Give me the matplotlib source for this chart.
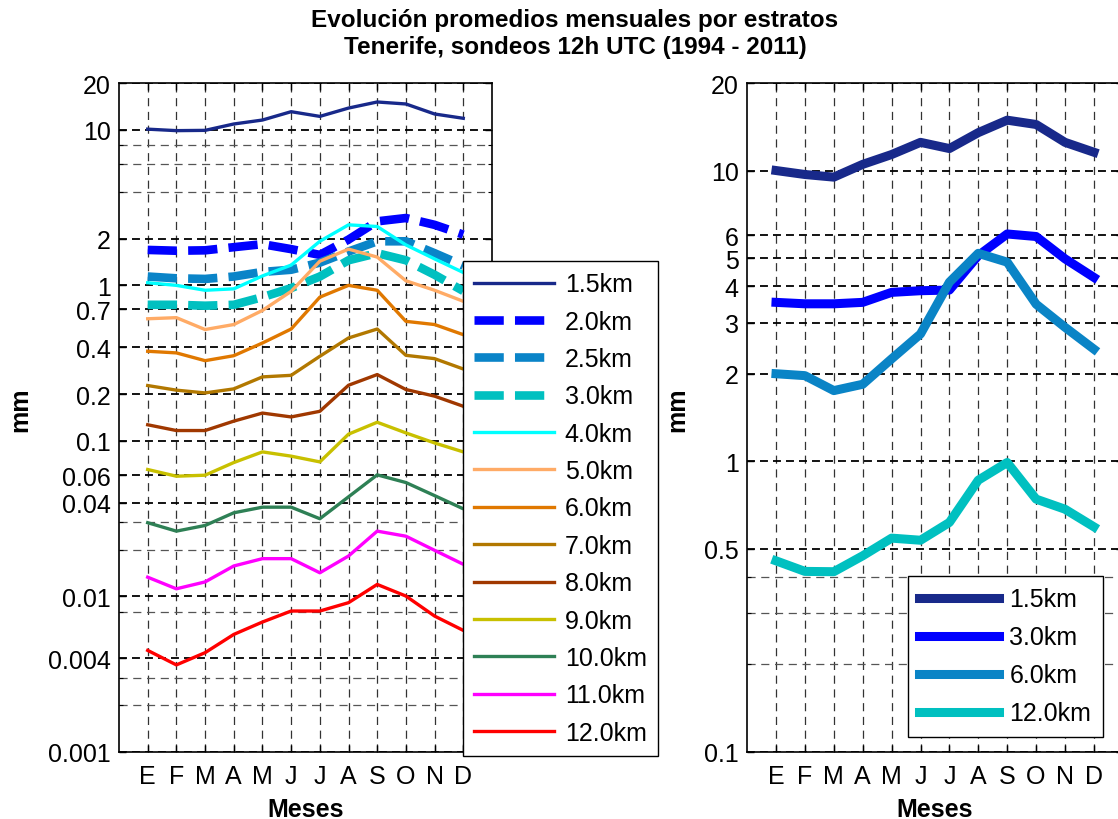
import matplotlib
matplotlib.use("Agg")
import matplotlib.pyplot as plt
from matplotlib.ticker import NullFormatter, FixedLocator, FixedFormatter, NullLocator

plt.rcParams['font.family'] = ['Liberation Sans', 'DejaVu Sans']

months = ['E', 'F', 'M', 'A', 'M', 'J', 'J', 'A', 'S', 'O', 'N', 'D']

# Left panel series (mm)
left_labels = ['1.5km', '2.0km', '2.5km', '3.0km', '4.0km', '5.0km', '6.0km',
               '7.0km', '8.0km', '9.0km', '10.0km', '11.0km', '12.0km']
l_1_5 = [10.1, 9.88, 9.92, 10.9, 11.56, 13.08, 12.2, 13.8, 15.1, 14.66, 12.64, 11.86]
l_2_0 = [1.69, 1.67, 1.68, 1.76, 1.84, 1.71, 1.57, 1.97, 2.58, 2.71, 2.45, 2.12]
l_2_5 = [1.14, 1.11, 1.10, 1.14, 1.22, 1.26, 1.40, 1.65, 1.92, 1.92, 1.61, 1.34]
l_3_0 = [0.75, 0.75, 0.74, 0.75, 0.84, 0.96, 1.14, 1.45, 1.61, 1.45, 1.17, 0.92]
l_4_0 = [1.04, 1.00, 0.93, 0.95, 1.15, 1.35, 1.92, 2.45, 2.39, 1.82, 1.48, 1.21]
l_5_0 = [0.61, 0.62, 0.52, 0.56, 0.69, 0.915, 1.43, 1.71, 1.52, 1.07, 0.93, 0.79]
l_6_0 = [0.377, 0.368, 0.328, 0.353, 0.426, 0.524, 0.84, 1.0, 0.93, 0.587, 0.56, 0.482]
l_7_0 = [0.227, 0.212, 0.2035, 0.216, 0.258, 0.264, 0.35, 0.459, 0.524, 0.355, 0.338, 0.29]
l_8_0 = [0.127, 0.1166, 0.1166, 0.134, 0.151, 0.1426, 0.155, 0.228, 0.267, 0.214, 0.194, 0.167]
l_9_0 = [0.0655, 0.0593, 0.0602, 0.0726, 0.085, 0.0798, 0.0733, 0.1105, 0.1318, 0.1126, 0.097, 0.085]
l_10_0 = [0.0298, 0.0263, 0.0286, 0.0345, 0.0375, 0.0375, 0.0316, 0.0437, 0.0605, 0.054, 0.0445, 0.0366]
l_11_0 = [0.0133, 0.0112, 0.0124, 0.0157, 0.0175, 0.0175, 0.0142, 0.0182, 0.0263, 0.0244, 0.0198, 0.0161]
l_12_0 = [0.0045, 0.00363, 0.00435, 0.0057, 0.00685, 0.00806, 0.00806, 0.00912, 0.01195, 0.01006, 0.00748, 0.00605]

left_colors = ['#18298a', '#0000ff', '#0a84c8', '#00c0c0', '#00ffff', '#ffab66', '#e07800',
               '#b27800', '#a03800', '#c8c000', '#2e8055', '#ff00ff', '#ff0000']

# Right panel series (mm)
right_labels = ['1.5km', '3.0km', '6.0km', '12.0km']
r_1_5 = [10.0, 9.69, 9.49, 10.5, 11.35, 12.5, 11.9, 13.5, 14.9, 14.4, 12.5, 11.56]
r_3_0 = [3.52, 3.48, 3.48, 3.52, 3.81, 3.86, 3.88, 5.1, 6.05, 5.93, 4.97, 4.29]
r_6_0 = [2.0, 1.97, 1.75, 1.84, 2.25, 2.74, 4.13, 5.19, 4.84, 3.47, 2.89, 2.43]
r_12_0 = [0.4545, 0.418, 0.417, 0.473, 0.544, 0.535, 0.616, 0.861, 0.99, 0.741, 0.684, 0.595]
right_colors = ['#18298a', '#0000ff', '#0a84c6', '#00c0c0']

left_yticks = [0.001, 0.004, 0.01, 0.04, 0.06, 0.1, 0.2, 0.4, 0.7, 1, 2, 10, 20]
left_yticklabels = ['0.001', '0.004', '0.01', '0.04', '0.06', '0.1', '0.2', '0.4', '0.7', '1', '2', '10', '20']
left_yminor = [0.002, 0.003, 0.008, 0.02, 0.03, 4, 6, 8]
right_yticks = [0.1, 0.5, 1, 2, 3, 4, 5, 6, 10, 20]
right_yticklabels = ['0.1', '0.5', '1', '2', '3', '4', '5', '6', '10', '20']
right_yminor = [0.2, 0.3, 0.4]

FS = 18
W, H = 1118, 820
fig = plt.figure(figsize=(W / 100, H / 100), dpi=100)

def px(x0, y0, x1, y1):
    return [x0 / W, 1 - y1 / H, (x1 - x0) / W, (y1 - y0) / H]

axL = fig.add_axes(px(119, 84, 119 + 13 * 28.69, 753))
axR = fig.add_axes(px(747.1, 84, 747.1 + 13 * 28.9, 753))

x = list(range(1, 13))

def style_axis(ax, ylim, yt, ytl, yminor):
    ax.set_yscale('log')
    ax.set_xlim(0, 13)
    ax.set_ylim(*ylim)
    ax.yaxis.set_major_locator(FixedLocator(yt))
    ax.yaxis.set_major_formatter(FixedFormatter(ytl))
    ax.yaxis.set_minor_locator(FixedLocator(yminor))
    ax.yaxis.set_minor_formatter(NullFormatter())
    ax.set_xticks(x)
    ax.set_xticklabels(months)
    ax.xaxis.set_minor_locator(NullLocator())
    ax.tick_params(axis='both', which='both', direction='in', top=True, right=True,
                   labelsize=FS, colors='black')
    ax.tick_params(axis='y', which='major', length=5, width=1, pad=6)
    ax.tick_params(axis='y', which='minor', length=3, width=0.8)
    ax.tick_params(axis='x', which='major', length=5, width=1, pad=9)
    ax.grid(True, axis='y', which='major', color='black', linewidth=1.3,
            linestyle=(0, (4.4, 2.8)))
    ax.grid(True, axis='y', which='minor', color='#555555', linewidth=0.9,
            linestyle=(0, (6.5, 4.5)))
    ax.grid(True, axis='x', which='major', color='#333333', linewidth=0.9,
            linestyle=(0, (6.5, 4.5)))
    ax.set_axisbelow(True)
    for s in ax.spines.values():
        s.set_linewidth(1.2)
        s.set_color('black')
    ax.set_xlabel('Meses', fontsize=FS, fontweight='bold', labelpad=6)

style_axis(axL, (0.001, 20), left_yticks, left_yticklabels, left_yminor)
style_axis(axR, (0.1, 20), right_yticks, right_yticklabels, right_yminor)

fig.text(20 / W, 1 - 410 / H, 'mm', rotation=90, ha='center', va='center',
         fontsize=FS, fontweight='bold')
fig.text(677 / W, 1 - 410 / H, 'mm', rotation=90, ha='center', va='center',
         fontsize=FS, fontweight='bold')

left_series = [l_1_5, l_2_0, l_2_5, l_3_0, l_4_0, l_5_0, l_6_0, l_7_0, l_8_0,
               l_9_0, l_10_0, l_11_0, l_12_0]
handles = []
for i, (vals, lab, col) in enumerate(zip(left_series, left_labels, left_colors)):
    if lab in ('2.0km', '2.5km', '3.0km'):
        h, = axL.plot(x, vals, color=col, linewidth=6.2, linestyle=(0, (3.4, 1.3)),
                      label=lab, solid_capstyle='butt', dash_capstyle='butt')
    else:
        h, = axL.plot(x, vals, color=col, linewidth=2.4, label=lab)
    handles.append(h)

legL = fig.legend(handles=handles, labels=left_labels, loc='upper left',
                  bbox_to_anchor=(463 / W, 1 - 262 / H), bbox_transform=fig.transFigure,
                  fontsize=FS, frameon=True, fancybox=False, framealpha=1,
                  edgecolor='black', handlelength=3.2, handletextpad=0.42,
                  labelspacing=0.535, borderpad=0.45, borderaxespad=0)
legL.get_frame().set_linewidth(1.0)
legL.set_zorder(10)

right_series = [r_1_5, r_3_0, r_6_0, r_12_0]
rh = []
for vals, lab, col in zip(right_series, right_labels, right_colors):
    h, = axR.plot(x, vals, color=col, linewidth=6.5, label=lab)
    rh.append(h)

legR = axR.legend(handles=rh, labels=right_labels, loc='upper left',
                  bbox_to_anchor=(907.7 / W, 1 - 577 / H), bbox_transform=fig.transFigure,
                  fontsize=FS, frameon=True, fancybox=False, framealpha=1,
                  edgecolor='black', handlelength=3.2, handletextpad=0.42,
                  labelspacing=0.56, borderpad=0.45, borderaxespad=0)
legR.get_frame().set_linewidth(1.0)

fig.text(575 / W, 1 - 34 / H,
         'Evolución promedios mensuales por estratos\nTenerife, sondeos 12h UTC (1994 - 2011)',
         ha='center', va='center', fontsize=17.5, fontweight='bold', linespacing=1.2)

fig.savefig('out.png', dpi=100)
